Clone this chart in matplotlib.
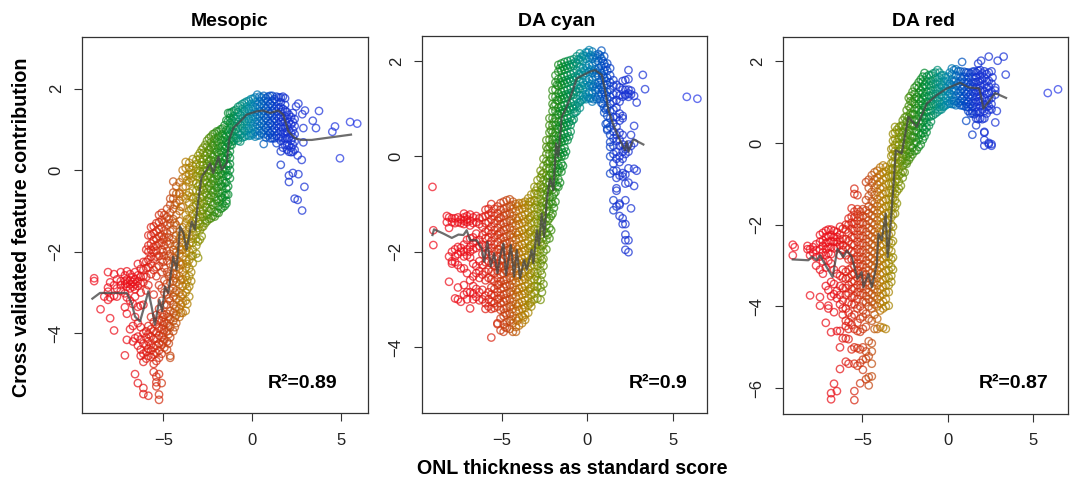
import matplotlib
matplotlib.use('Agg')
import matplotlib.pyplot as plt
from matplotlib.colors import LinearSegmentedColormap, Normalize

plt.rcParams['font.family'] = ['Liberation Sans', 'DejaVu Sans']

W, H = 1073, 479

# each column: one x value and the y values of the circles read at that x
meso_x = [-8.9,-8.54,-8.33,-8.12,-8.0,-7.78,-7.62,-7.4,-7.17,-7.06,-6.88,-6.72,-6.6,-6.44,-6.28,-6.13,-5.97,-5.85,-5.7,-5.55,-5.4,-5.25,-5.1,-4.95,-4.8,-4.62,-4.45,-4.28,-4.1,-3.92,-3.75,-3.55,-3.35]
meso_y = [
[-2.65,-2.72],[-3.41],[-3.1],[-2.5,-2.88,-3.18,-2.98],[-3.63,-2.75,-3.12],[-3.93,-2.55,-2.82,-3.08],[-2.68,-2.9,-3.1],[-2.5,-2.72,-2.82,-2.96],
[-4.54,-3.36,-2.58,-2.72,-2.8,-3.02],[-3.52,-4.16,-2.48,-2.68,-2.78,-2.86,-3.12],[-2.55,-2.7,-2.8,-2.9,-3.9,-3.2],[-2.62,-2.74,-2.86,-3.28,-3.82,-4.2],
[-2.5,-2.68,-2.8,-2.92,-3.1,-3.6,-4.12,-5.0],[-2.3,-2.58,-2.72,-2.84,-3.35,-3.75,-4.08,-4.3,-5.22],[-2.42,-2.62,-2.78,-3.0,-3.32,-3.85,-4.15,-4.4,-4.55],
[-2.25,-2.45,-2.6,-2.75,-3.3,-4.0,-4.25,-4.5,-4.7,-5.34,-5.49],[-1.95,-2.25,-2.4,-2.62,-2.95,-3.95,-4.1,-4.3,-4.45,-4.62],
[-1.6,-1.85,-2.0,-2.2,-2.38,-2.82,-3.82,-4.02,-4.2,-4.38,-4.55,-5.53],[-1.4,-1.6,-1.8,-1.95,-2.12,-2.3,-2.55,-3.6,-3.9,-4.08,-4.28,-4.42,-4.58],
[-1.38,-1.55,-1.72,-1.88,-2.02,-2.18,-2.45,-3.05,-3.72,-3.95,-4.15,-4.35,-4.52,-4.75,-4.95],
[-1.3,-1.5,-1.68,-1.85,-1.98,-2.12,-2.38,-2.6,-3.55,-3.78,-3.98,-4.12,-4.3,-4.48,-4.68,-5.06,-5.3,-5.2],
[-1.1,-1.28,-1.45,-1.62,-1.8,-2.1,-2.35,-2.82,-3.4,-3.68,-3.88,-4.05,-4.25,-4.42,-4.6,-5.0,-5.5,-5.63],
[-1.05,-1.22,-1.4,-1.6,-1.78,-1.95,-2.2,-2.5,-2.9,-3.2,-3.5,-3.7,-3.9,-4.1,-4.28,-4.5,-5.22],
[-1.1,-1.28,-1.48,-1.65,-1.85,-2.1,-2.4,-2.7,-3.0,-3.3,-3.55,-3.72,-3.92,-4.15,-4.35],
[-0.95,-1.15,-1.35,-1.55,-1.75,-1.98,-2.22,-2.5,-2.78,-3.05,-3.3,-3.52,-3.75,-3.95,-4.2,-4.4],
[-0.7,-0.85,-1.05,-1.3,-1.5,-1.8,-2.05,-2.3,-2.55,-2.75,-2.95,-3.2,-3.45,-3.65,-3.85,-4.1,-4.6,-4.55],
[-0.28,-0.55,-0.7,-0.95,-1.2,-1.45,-1.7,-1.95,-2.15,-2.35,-2.55,-2.72,-2.9,-3.1,-3.3,-3.5,-3.7,-3.95],
[-0.4,-0.58,-0.8,-1.1,-1.35,-1.6,-1.8,-2.0,-2.2,-2.38,-2.55,-2.75,-2.95,-3.15,-3.35,-3.55,-3.75],
[-0.3,-0.55,-0.58,-0.75,-1.0,-1.25,-1.5,-1.68,-1.88,-2.05,-2.25,-2.42,-2.6,-2.8,-3.0,-3.2,-3.4,-3.6],
[0.0,-0.2,-0.42,-0.65,-0.9,-1.4,-1.6,-1.78,-1.95,-2.12,-2.3,-2.5,-2.68,-2.85,-3.05,-3.25,-3.5],
[0.2,0.05,-0.15,-0.4,-0.7,-1.1,-1.3,-1.5,-1.68,-1.85,-2.02,-2.2,-2.4,-2.6,-2.8,-3.0,-3.2,-3.45],
[0.18,0.05,-0.1,-0.3,-0.55,-0.8,-1.0,-1.2,-1.4,-1.6,-1.8,-2.0,-2.2,-2.4,-2.6,-2.85,-3.1],
[0.27,0.1,-0.08,-0.28,-0.5,-0.7,-0.9,-1.08,-1.25,-1.42,-1.6,-1.78,-1.95,-2.1,-2.28]]
meso_band = [
(-5.02,[-3.6,-3.8,-4.0,-4.22,-2.25,-2.0,-1.7]),(-4.7,[-1.2,-1.65,-2.1,-2.6,-3.15,-3.6,-3.82,-4.02,-4.25]),(-4.36,[-0.85,-1.3,-1.85,-2.25,-2.65,-3.0,-3.4,-3.62,-3.85]),
(-4.02,[-0.9,-1.6,-1.95,-2.32,-2.7,-3.1,-3.3,-3.5]),(-3.66,[-0.25,-0.62,-1.2,-1.58,-1.9,-2.3,-2.7,-2.92,-3.28]),(-3.44,[0.0,-0.2,-0.65,-0.95,-1.3,-1.68,-2.1,-2.5,-2.72]),
(-3.15,[0.25,0.15,0.02,-0.15,-0.32,-0.5,-0.68,-0.85,-1.02,-1.18,-1.35,-1.5,-1.68,-1.85,-2.05]),(-3.05,[0.35,-0.08,-0.4,-0.76,-1.1,-1.42,-1.75,-2.15]),
(-2.95,[0.42,0.28,0.12,-0.02,-0.18,-0.35,-0.52,-0.68,-0.85,-1.0,-1.15,-1.32,-1.48,-1.7]),(-2.85,[0.5,0.2,-0.1,-0.43,-0.77,-1.08,-1.4,-1.62]),
(-2.76,[0.55,0.42,0.28,0.12,-0.02,-0.18,-0.32,-0.48,-0.65,-0.82,-0.98,-1.15,-1.38]),(-2.65,[0.62,0.35,0.05,-0.25,-0.56,-0.9,-1.22,-1.3]),
(-2.55,[0.72,0.58,0.42,0.28,0.15,0.0,-0.15,-0.3,-0.45,-0.6,-0.75,-0.92,-1.1,-1.25]),(-2.44,[0.78,0.5,0.22,-0.08,-0.38,-0.68,-1.0,-1.2]),
(-2.33,[0.82,0.68,0.55,0.4,0.25,0.12,-0.03,-0.18,-0.33,-0.48,-0.62,-0.78,-0.95,-1.18]),(-2.22,[0.88,0.6,0.32,0.05,-0.26,-0.55,-0.86,-1.12]),
(-2.12,[0.9,0.76,0.62,0.5,0.36,0.22,0.08,-0.08,-0.22,-0.36,-0.5,-0.66,-0.82,-1.02,-1.14]),(-2.0,[0.95,0.7,0.44,0.15,-0.15,-0.44,-0.75,-1.05]),
(-1.9,[0.95,0.82,0.68,0.55,0.42,0.28,0.14,0.0,-0.14,-0.28,-0.42,-0.56,-0.72,-0.88,-1.05]),(-1.78,[1.0,0.75,0.48,0.2,-0.07,-0.35,-0.65,-0.95]),
(-1.68,[1.02,0.88,0.74,0.6,0.46,0.32,0.18,0.04,-0.1,-0.25,-0.4,-0.55,-0.68,-0.82,-0.92]),(-1.56,[1.1,0.8,0.52,0.25,-0.03,-0.32,-0.62,-0.88]),
(-1.46,[1.22,0.98,0.84,0.7,0.56,0.42,0.28,0.14,0.0,-0.15,-0.3,-0.45,-0.6,-0.75,-0.82]),(-1.36,[1.4,1.2,0.92,0.65,0.38,0.1,-0.12,-0.4,-0.6]),
(-1.26,[1.4,1.28,1.15,1.02,0.88,0.74,0.6,0.46,0.3,0.15,0.0,-0.2]),(-1.16,[1.42,1.22,0.95,0.7,0.62]),
(-1.05,[1.45,1.32,1.2,1.08,0.95,0.82,0.72]),(-0.92,[1.48,1.25,1.0,0.78]),(-0.8,[1.55,1.42,1.3,1.18,1.05,0.92,0.78,0.72]),(-0.68,[1.58,1.35,1.12,0.86,0.7]),
(-0.56,[1.62,1.5,1.38,1.26,1.14,1.02,0.9,0.8]),(-0.44,[1.65,1.44,1.2,0.95,0.82]),(-0.32,[1.68,1.56,1.44,1.32,1.2,1.08,0.96,0.86]),(-0.2,[1.7,1.5,1.26,1.02,0.84]),
(-0.08,[1.74,1.62,1.5,1.38,1.26,1.14,1.02,0.9,0.85]),(0.04,[1.75,1.55,1.32,1.08,0.88]),(0.16,[1.78,1.66,1.54,1.42,1.3,1.18,1.06,0.94,0.82]),(0.28,[1.85,1.6,1.36,1.12,0.85]),
(0.4,[1.8,1.68,1.56,1.44,1.32,1.2,1.08,0.96,0.85]),(0.52,[1.78,1.62,1.38,1.14,0.9]),(0.64,[1.82,1.7,1.58,1.46,1.34,1.22,1.1,0.98,0.88,0.64]),(0.76,[1.76,1.52,1.28,1.04,0.8]),
(0.88,[1.8,1.68,1.56,1.44,1.32,1.2,1.08,0.96,0.85]),(1.0,[1.82,1.62,1.38,1.14,0.9,0.78]),(1.12,[1.82,1.7,1.58,1.46,1.34,1.22,1.1,0.98,0.86,0.78]),(1.24,[1.74,1.5,1.26,1.02,0.78]),
(1.36,[1.8,1.68,1.56,1.44,1.32,1.2,1.08,0.96,0.84,0.66]),(1.48,[1.78,1.52,1.28,1.04,0.78]),(1.6,[1.78,1.66,1.54,1.42,1.3,1.18,1.06,0.94,0.82,0.72,0.46,0.13]),(1.72,[1.8,1.5,1.26,1.02,0.8,0.55]),
(1.84,[1.76,1.6,1.46,1.32,1.18,1.04,0.9,0.76,0.62]),(1.95,[1.42,1.26,1.1,0.94,0.78,0.62,0.5]),(2.06,[1.36,1.18,0.98,0.8,0.6,0.45,-0.13,-0.29]),(2.18,[1.3,1.12,0.9,0.72,0.55,0.44]),
(2.28,[1.4,1.18,0.98,0.8,0.62,0.45,-0.07]),(2.38,[1.25,1.08,0.88,0.7,0.5,-0.7])]
meso_out_x = [2.46,2.59,2.55,2.55,2.59,2.81,2.87,2.87,2.78,2.8,2.96,2.93,3.4,3.58,3.75,4.5,4.65,4.93,5.5,5.9]
meso_out_y = [1.56,1.63,0.36,-0.73,-0.1,1.37,1.03,0.68,0.25,-0.99,1.46,-0.41,1.21,1.03,1.45,0.94,1.07,0.29,1.18,1.14]
meso_trend_x = [-9.0,-8.57,-7.07,-6.79,-6.6,-6.32,-6.13,-5.85,-5.67,-5.48,-5.23,-5.07,-4.92,-4.73,-4.45,-4.26,-4.07,-3.88,-3.7,-3.41,-3.23,-3.04,-2.85,-2.57,-2.38,-2.2,-1.91,-1.73,-1.44,-1.31,-1.07,-0.69,-0.32,0.24,0.62,0.99,1.46,1.74,2.03,2.4,2.78,3.34,5.55]
meso_trend_y = [-3.15,-3.01,-3.01,-3.26,-3.59,-3.71,-3.42,-2.97,-3.34,-3.79,-3.18,-3.46,-2.85,-3.01,-2.12,-2.44,-1.38,-1.54,-1.95,-1.26,-1.46,-0.73,-0.16,0.01,0.17,-0.07,0.33,0.01,0.17,0.74,1.03,1.19,1.36,1.44,1.46,1.4,1.46,1.36,0.95,0.78,0.74,0.74,0.87]

cyan_x = [-9.04,-8.99,-8.2,-8.07,-7.9,-7.72,-7.55,-7.38,-7.2,-7.02,-6.84,-6.66,-6.48,-6.3,-6.12,-5.94,-5.76,-5.6,-5.42,-5.24,-5.06,-4.88,-4.7,-4.52,-4.34,-4.16,-3.98,-3.8,-3.62,-3.44,-3.26,-3.08,-2.9,-2.72,-2.55,-2.38,-2.2,-2.02,-1.85,-1.68,-1.5,-1.32,-1.14,-0.96,-0.78,-0.6,-0.42,-0.24,-0.06,0.12,0.3,0.48,0.66,0.84,1.0,1.18,1.35,1.54,1.72,1.9,2.08,2.24,2.42,2.57,2.75,2.9,3.26,3.39,5.83,6.45]
cyan_y = [
[-0.64],[-1.55,-1.86],[-1.25,-1.38],[-1.5,-2.63,-2.1,-1.28],[-1.3,-1.38,-2.0,-2.25,-2.2],[-1.3,-1.4,-1.95,-2.1,-2.22,-2.98],[-1.28,-1.38,-1.9,-2.05,-2.28,-2.75,-3.0],[-1.32,-1.4,-1.92,-2.0,-2.35,-3.05],
[-1.2,-1.28,-1.35,-1.42,-1.85,-2.0,-2.1,-2.35,-2.7,-2.9],[-1.25,-1.32,-1.38,-1.75,-1.95,-2.08,-2.45,-2.85,-3.0],[-1.22,-1.35,-1.45,-1.72,-1.9,-2.0,-2.12,-2.6,-3.19,-2.85],[-1.28,-1.4,-1.7,-1.82,-1.95,-2.25,-2.52,-2.72,-2.88,-3.0],
[-1.25,-1.38,-1.62,-1.78,-1.92,-2.3,-2.45,-2.78,-2.95],[-1.3,-1.42,-1.75,-1.88,-2.2,-2.4,-2.55,-2.85,-3.02],[-1.28,-1.48,-1.65,-1.85,-2.05,-2.28,-2.48,-2.8,-3.0],[-1.12,-1.25,-1.4,-1.58,-1.72,-1.88,-2.05,-2.22,-2.42,-2.6,-2.92,-3.08,-3.2],
[-1.1,-1.22,-1.38,-1.55,-1.7,-1.85,-2.0,-2.2,-2.38,-2.55,-2.85,-3.0,-3.15],[-1.0,-1.18,-1.32,-1.48,-1.62,-1.78,-1.92,-2.08,-2.25,-2.42,-2.58,-2.75,-2.9,-3.05,-3.2,-3.8],[-1.1,-1.25,-1.4,-1.55,-1.7,-1.85,-2.0,-2.15,-2.3,-2.45,-2.62,-2.78,-2.92,-3.08,-3.18],
[-1.05,-1.2,-1.35,-1.5,-1.65,-1.8,-1.95,-2.1,-2.25,-2.4,-2.55,-2.7,-2.85,-3.0,-3.15,-3.5,-3.52],[-0.98,-1.12,-1.28,-1.42,-1.58,-1.72,-1.88,-2.02,-2.18,-2.32,-2.48,-2.62,-2.78,-2.92,-3.08,-3.22,-3.4,-3.65],
[-0.95,-1.1,-1.25,-1.4,-1.55,-1.7,-1.85,-2.0,-2.15,-2.3,-2.45,-2.6,-2.75,-2.9,-3.05,-3.2,-3.35,-3.52,-3.68],[-0.92,-1.08,-1.22,-1.38,-1.52,-1.68,-1.82,-1.98,-2.12,-2.28,-2.42,-2.58,-2.72,-2.88,-3.02,-3.18,-3.32,-3.48,-3.6],
[-0.9,-1.05,-1.2,-1.35,-1.5,-1.65,-1.8,-1.95,-2.1,-2.25,-2.4,-2.55,-2.7,-2.85,-3.0,-3.15,-3.3,-3.45,-3.62],[-0.95,-1.1,-1.25,-1.4,-1.55,-1.7,-1.85,-2.0,-2.15,-2.3,-2.45,-2.6,-2.75,-2.9,-3.05,-3.2,-3.35,-3.5,-3.68],
[-1.0,-1.15,-1.3,-1.45,-1.6,-1.75,-1.9,-2.05,-2.2,-2.35,-2.5,-2.65,-2.8,-2.95,-3.1,-3.25,-3.4,-3.58,-3.68],[-0.98,-1.12,-1.28,-1.42,-1.58,-1.72,-1.88,-2.02,-2.18,-2.32,-2.48,-2.62,-2.78,-2.92,-3.08,-3.22,-3.38,-3.55],
[-0.98,-1.1,-1.25,-1.4,-1.55,-1.7,-1.85,-2.0,-2.15,-2.3,-2.45,-2.6,-2.75,-2.9,-3.05,-3.2,-3.35,-3.5],[-0.95,-1.08,-1.22,-1.38,-1.52,-1.68,-1.82,-1.98,-2.12,-2.28,-2.42,-2.58,-2.72,-2.88,-3.02,-3.18,-3.32,-3.43],
[-0.88,-1.02,-1.18,-1.32,-1.48,-1.62,-1.78,-1.92,-2.08,-2.22,-2.38,-2.52,-2.68,-2.82,-2.98,-3.12,-3.28],[-0.8,-0.95,-1.1,-1.25,-1.4,-1.55,-1.7,-1.85,-2.0,-2.15,-2.3,-2.45,-2.6,-2.75,-2.9,-3.05,-3.15],
[-0.64,-0.78,-0.92,-1.08,-1.22,-1.38,-1.52,-1.68,-1.82,-1.98,-2.12,-2.28,-2.42,-2.58,-2.72,-2.88,-3.0],[-0.5,-0.65,-0.8,-0.95,-1.1,-1.25,-1.4,-1.55,-1.7,-1.85,-2.0,-2.15,-2.3,-2.45,-2.6,-2.73,-2.98],
[-0.3,-0.45,-0.6,-0.75,-0.9,-1.05,-1.2,-1.35,-1.5,-1.65,-1.8,-1.95,-2.1,-2.25,-2.4,-2.6,-2.75,-3.01],[-0.05,-0.2,-0.35,-0.5,-0.65,-0.8,-0.95,-1.1,-1.25,-1.4,-1.55,-1.7,-1.85,-2.0,-2.15,-2.3,-2.68],
[0.34,0.2,0.05,-0.1,-0.25,-0.4,-0.55,-0.7,-0.85,-1.0,-1.15,-1.3,-1.45,-1.6,-1.75,-1.95],[0.8,0.65,0.5,0.35,0.2,0.05,-0.1,-0.25,-0.4,-0.55,-0.7,-0.85,-1.0,-1.15,-1.3,-1.5,-1.72],
[1.39,1.25,1.1,0.95,0.8,0.65,0.5,0.35,0.2,0.05,-0.1,-0.25,-0.4,-0.55,-0.7,-0.85,-1.0,-1.2],[1.7,1.55,1.4,1.25,1.1,0.95,0.8,0.65,0.5,0.35,0.2,0.05,-0.1,-0.25,-0.4,-0.55,-0.75,-0.95],
[1.92,1.78,1.62,1.48,1.32,1.18,1.02,0.88,0.72,0.58,0.42,0.28,0.12,-0.02,-0.18,-0.32,-0.48,-0.64],[1.95,1.8,1.65,1.5,1.35,1.2,1.05,0.9,0.75,0.6,0.45,0.3,0.15,0.0,-0.15,-0.32],
[1.98,1.82,1.68,1.52,1.38,1.22,1.08,0.92,0.78,0.62,0.48,0.32,0.18,0.02],[2.0,1.85,1.7,1.55,1.4,1.25,1.1,0.95,0.8,0.65,0.5,0.34],[2.02,1.88,1.72,1.58,1.42,1.28,1.12,0.98,0.82,0.66,0.52],
[2.04,1.9,1.75,1.6,1.45,1.3,1.15,1.0,0.9,0.78],[2.1,1.95,1.8,1.65,1.5,1.35,1.2,1.05,0.95],[2.16,2.02,1.88,1.72,1.58,1.42,1.28,1.14,1.02],[2.12,2.0,1.85,1.7,1.55,1.4,1.28,1.2],[2.18,2.05,1.9,1.75,1.6,1.45,1.3,1.2],
[2.23,2.08,1.92,1.78,1.62,1.48,1.35,1.22],[2.2,2.05,1.9,1.75,1.6,1.45,1.32,1.15],[2.12,1.98,1.82,1.68,1.52,1.38,1.25],[2.15,2.0,1.85,1.7,1.55,1.4,1.28],[2.22,2.05,1.9,1.75,1.6,1.45,1.3,1.12],
[2.1,1.95,1.8,1.65,1.5,1.35,1.2,1.02,0.92],[1.95,1.8,1.65,1.5,1.35,1.2,1.02,0.85,0.7,0.55,0.58],[1.85,1.7,1.55,1.4,1.25,1.1,0.95,0.8,0.62,0.45,0.3,0.2,0.0,-0.36],
[1.6,1.48,1.3,1.15,0.98,0.82,0.7,0.52,0.38,0.22,0.05,-0.15,-0.3,-0.92,-1.13],[1.5,1.32,1.18,1.02,0.82,0.62,0.45,0.32,0.1,-0.05,-0.3,-0.45,-0.67,-0.72,-1.05],
[1.45,1.28,1.15,0.9,0.75,0.5,0.35,0.22,0.0,-0.12,-0.4,-0.99,-1.25,-1.02],[1.58,1.4,1.25,0.85,0.8,0.45,0.25,0.1,-0.05,-0.35,-0.42,-1.3,-1.42],
[1.6,1.4,1.28,1.3,0.2,0.15,0.05,-0.38,-0.57,-0.92,-1.42,-1.64,-1.76,-1.96],[1.81,1.62,1.4,1.32,1.25,0.25,0.1,-0.25,-0.55,-1.76,-2.01],[1.38,1.3,0.45,-1.09,0.22],[1.27,0.64,0.28,-0.26,-0.62],[1.13,-0.3],[1.71],[1.41],[1.25],[1.21]]
cyan_band = [
(-5.15,[-1.3,-1.62,-1.95,-2.3,-2.68,-2.98]),(-4.8,[-1.18,-1.48,-1.78,-2.08,-2.38,-2.68,-2.98,-3.28,-3.58]),(-4.44,[-1.02,-1.32,-1.62,-1.92,-2.22,-2.52,-2.82,-3.12,-3.42]),
(-4.08,[-1.05,-1.35,-1.65,-1.95,-2.25,-2.55,-2.85,-3.15,-3.45]),(-3.72,[-1.02,-1.32,-1.62,-1.92,-2.22,-2.52,-2.82,-3.12,-3.38]),(-3.35,[-0.95,-1.28,-1.58,-1.88,-2.18,-2.48,-2.78,-3.08]),
(-3.0,[-0.72,-1.02,-1.32,-1.62,-1.92,-2.22,-2.52,-2.82]),(-2.64,[-0.38,-0.68,-0.98,-1.28,-1.58,-1.88,-2.18,-2.48,-2.85]),(-2.3,[0.15,-0.15,-0.45,-0.75,-1.05,-1.35,-1.65]),
(-2.1,[0.55,0.25,-0.05,-0.35,-0.65,-0.95,-1.25,-1.55]),(-1.94,[1.05,0.72,0.42,0.12,-0.18,-0.48,-0.78,-1.08]),(-1.76,[1.5,1.18,0.88,0.58,0.28,-0.02,-0.32,-0.62]),
(-1.58,[1.85,1.55,1.25,0.95,0.65,0.35,0.05,-0.25,-0.55]),(-1.41,[1.88,1.58,1.28,0.98,0.68,0.38,0.08,-0.2]),(-1.23,[1.9,1.6,1.3,1.0,0.7,0.4,0.1]),(-1.05,[1.92,1.62,1.32,1.02,0.72,0.42]),
(-0.87,[1.94,1.65,1.35,1.05,0.75]),(-0.69,[1.98,1.68,1.38,1.08,0.92]),(-0.51,[2.04,1.72,1.42,1.12]),(-0.33,[2.08,1.78,1.48,1.18]),(-0.15,[2.1,1.8,1.5,1.24]),(0.03,[2.18,1.85,1.55,1.25]),
(0.21,[2.12,1.82,1.52,1.22]),(0.39,[2.08,1.78,1.48,1.2]),(0.57,[2.06,1.75,1.45,1.2]),(0.75,[2.12,1.8,1.5,1.2]),(0.92,[2.0,1.7,1.4,1.1]),(1.09,[1.88,1.58,1.28,0.98,0.68])]
cyan_trend_x = [-9.04,-8.95,-8.4,-7.91,-7.52,-7.23,-7.04,-6.84,-6.45,-6.16,-6.02,-5.83,-5.63,-5.44,-5.24,-5.09,-4.89,-4.74,-4.46,-4.27,-4.11,-3.92,-3.68,-3.53,-3.24,-3.14,-2.94,-2.81,-2.65,-2.51,-2.36,-2.16,-1.97,-1.81,-1.68,-1.48,-1.19,-0.9,-0.6,-0.21,0.18,0.47,0.86,1.05,1.25,1.54,1.83,2.22,2.32,2.42,2.71,3.29]
cyan_trend_y = [-1.65,-1.53,-1.62,-1.71,-1.64,-1.65,-1.55,-1.76,-1.76,-1.93,-2.21,-1.79,-2.31,-2.03,-2.45,-2.1,-1.83,-2.49,-1.86,-2.52,-1.96,-2.56,-2.17,-2.38,-1.96,-2.24,-1.55,-1.86,-1.2,-1.69,-0.92,-0.46,-0.71,0.27,0.0,0.83,1.04,1.32,1.64,1.71,1.78,1.81,1.71,1.39,0.97,0.66,0.41,0.13,0.31,0.1,0.36,0.25]

red_x = [-9.06,-8.95,-8.2,-8.05,-7.88,-7.7,-7.47,-7.3,-7.13,-6.98,-6.82,-6.65,-6.48,-6.3,-6.14,-5.96,-5.8,-5.62,-5.46,-5.28,-5.12,-4.96,-4.78,-4.62,-4.44,-4.28,-4.12,-3.95,-3.78,-3.62,-3.45,-3.3]
red_y = [
[-2.49,-2.75],[-2.55],[-2.52,-2.6],[-3.73,-2.6,-2.75],[-2.55,-2.68],[-2.48,-2.62,-2.8,-3.0],[-2.25,-2.42,-2.6,-2.78,-3.1,-3.77,-3.98],[-2.2,-2.38,-2.52,-2.68,-2.9,-3.2],[-2.15,-2.3,-2.45,-2.6,-2.75,-3.05,-3.5,-4.4],
[-2.12,-2.28,-2.42,-2.55,-2.7,-2.88,-3.6,-3.98,-4.05],[-2.12,-2.25,-2.4,-2.55,-2.72,-2.95,-3.4,-3.75,-4.63,-6.12,-6.27],[-2.15,-2.3,-2.42,-2.58,-3.1,-3.45,-3.7,-4.14,-5.89],[-2.18,-2.3,-2.42,-2.55,-3.2,-3.62,-3.8,-4.6,-6.07],
[-2.05,-2.25,-2.38,-2.5,-2.75,-3.25,-3.5,-3.72,-3.95,-4.6,-5.0,-5.53],[-2.1,-2.35,-2.5,-2.62,-3.1,-3.3,-3.55,-3.85,-4.05,-4.2,-4.78],[-2.0,-2.12,-2.35,-2.55,-2.75,-3.15,-3.32,-3.55,-3.72,-4.05,-4.35,-4.48,-4.78,-5.35],
[-1.85,-2.0,-2.2,-2.4,-2.6,-2.85,-3.1,-3.3,-3.48,-3.68,-3.9,-4.15,-4.38,-4.55,-4.8,-5.4],[-1.6,-1.8,-1.95,-2.1,-2.3,-2.48,-2.65,-2.85,-3.05,-3.22,-3.4,-3.58,-3.78,-3.95,-4.25,-4.45,-5.05],
[-1.12,-1.25,-1.68,-1.82,-1.98,-2.15,-2.32,-2.5,-2.68,-2.85,-3.02,-3.2,-3.38,-3.55,-3.75,-3.95,-4.2,-4.55,-5.0,-5.4,-6.07,-6.29],[-1.28,-1.62,-1.75,-1.9,-2.08,-2.25,-2.42,-2.6,-2.78,-2.95,-3.12,-3.3,-3.48,-3.65,-3.82,-4.05,-4.4,-4.6,-5.02,-5.45],
[-1.68,-1.82,-1.98,-2.15,-2.32,-2.5,-2.68,-2.85,-3.02,-3.2,-3.38,-3.55,-3.72,-4.0,-4.3,-4.62,-5.05,-5.38,-5.88],[-1.62,-1.78,-1.95,-2.1,-2.28,-2.45,-2.62,-2.8,-2.98,-3.15,-3.32,-3.5,-3.68,-3.88,-4.1,-4.25,-4.55,-5.0,-5.3,-5.55],
[-0.96,-1.4,-1.65,-1.82,-2.0,-2.18,-2.35,-2.52,-2.7,-2.88,-3.05,-3.22,-3.4,-3.58,-3.75,-3.9,-4.18,-4.5,-5.1,-5.28,-5.78],[-0.9,-1.1,-1.3,-1.55,-1.72,-1.9,-2.08,-2.25,-2.42,-2.6,-2.78,-2.95,-3.12,-3.3,-3.48,-3.65,-3.82,-4.0,-4.3,-4.85,-5.22,-5.73,-5.93],
[-0.79,-0.98,-1.2,-1.42,-1.6,-1.78,-1.95,-2.12,-2.3,-2.48,-2.65,-2.82,-3.0,-3.18,-3.35,-3.52,-3.7,-3.88,-4.05,-4.35,-4.9,-5.1,-5.4,-5.71],[-0.72,-0.9,-1.1,-1.28,-1.48,-1.65,-1.82,-2.0,-2.18,-2.35,-2.52,-2.7,-2.88,-3.05,-3.22,-3.4,-3.58,-3.75,-3.95,-4.2,-4.55],
[-0.68,-0.85,-1.02,-1.2,-1.38,-1.55,-1.72,-1.9,-2.08,-2.25,-2.42,-2.6,-2.78,-2.95,-3.12,-3.3,-3.48,-3.65,-3.82,-4.0,-4.3,-4.55],[-0.6,-0.78,-0.95,-1.12,-1.3,-1.48,-1.65,-1.82,-2.0,-2.18,-2.35,-2.52,-2.7,-2.88,-3.05,-3.22,-3.4,-3.58,-3.75,-3.92,-4.1,-4.5],
[-0.55,-0.72,-0.9,-1.08,-1.25,-1.42,-1.6,-1.78,-1.95,-2.12,-2.3,-2.48,-2.65,-2.82,-3.0,-3.18,-3.35,-3.52,-3.7,-3.88,-4.05,-4.52],[-0.59,-0.7,-0.85,-1.0,-1.2,-1.38,-1.55,-1.72,-1.9,-2.08,-2.25,-2.42,-2.6,-2.78,-2.95,-3.12,-3.3,-3.48,-3.65,-3.82,-4.0,-4.55],
[-0.65,-0.8,-1.0,-1.22,-1.38,-1.55,-1.72,-1.9,-2.08,-2.25,-2.42,-2.6,-2.78,-2.95,-3.12,-3.3,-3.48,-3.65,-3.98],[-0.15,-0.32,-0.5,-0.65,-0.82,-0.98,-1.15,-1.32,-1.5,-1.65,-1.82,-2.0,-2.2,-2.45,-2.65,-2.85,-3.04,-3.25,-3.4]]
red_band = [
(-3.2,[0.22,0.05,-0.12,-0.28,-0.46,-0.62,-0.8,-1.0,-1.18,-1.36,-1.55,-1.75,-2.05,-2.4,-2.8,-3.1]),(-3.08,[0.39,0.25,0.1,-0.05,-0.2,-0.35,-0.5,-0.65,-0.8,-0.95,-1.1,-1.25,-1.4,-1.58,-1.73]),
(-2.97,[0.32,0.02,-0.28,-0.58,-0.88,-1.18,-1.48]),(-2.86,[0.38,0.25,0.1,-0.05,-0.2,-0.35,-0.5,-0.65,-0.8,-0.95,-1.12]),(-2.74,[0.42,0.15,-0.15,-0.45,-0.75,-1.05]),
(-2.63,[0.55,0.42,0.28,0.14,0.0,-0.14,-0.28,-0.42,-0.56,-0.7,-0.85]),(-2.52,[0.62,0.35,0.08,-0.22,-0.5,-0.72]),(-2.4,[0.8,0.65,0.52,0.38,0.24,0.1,-0.04,-0.18,-0.32,-0.45,-0.51]),
(-2.28,[1.1,0.9,0.62,0.3,0.02,-0.26,-0.42]),(-2.18,[1.15,1.02,0.85,0.72,0.58,0.45,0.32,0.18,0.05,-0.08,-0.22,-0.35]),(-2.06,[1.25,1.0,0.7,0.42,0.12,-0.12,-0.28]),
(-1.94,[1.35,1.2,1.08,0.95,0.82,0.7,0.56,0.42,0.28,0.14,0.0,-0.2]),(-1.82,[1.4,1.12,0.85,0.58,0.3,0.02,-0.18]),(-1.7,[1.48,1.35,1.22,1.08,0.94,0.8,0.66,0.52,0.38,0.24,0.1,-0.1]),
(-1.58,[1.55,1.28,1.02,0.75,0.48,0.2,-0.04]),(-1.46,[1.62,1.5,1.36,1.22,1.08,0.94,0.8,0.66,0.52,0.38,0.24,0.08]),(-1.36,[1.71,1.42,1.15,0.88,0.6,0.32,0.16]),
(-1.24,[1.62,1.5,1.38,1.25,1.12,1.0,0.88,0.75,0.62,0.5,0.38,0.26]),(-1.1,[1.66,1.42,1.16,0.9,0.64,0.42]),(-0.98,[1.65,1.52,1.4,1.28,1.15,1.02,0.9,0.78,0.65,0.52]),(-0.85,[1.7,1.45,1.2,0.95,0.68]),
(-0.72,[1.72,1.58,1.45,1.32,1.2,1.08,0.95,0.82,0.72]),(-0.6,[1.78,1.5,1.26,1.02,0.76]),(-0.48,[1.72,1.6,1.48,1.36,1.24,1.12,1.0,0.88,0.8]),(-0.36,[1.65,1.42,1.18,0.94,0.82]),
(-0.24,[1.65,1.52,1.4,1.28,1.15,1.02,0.9,0.88]),(-0.12,[1.6,1.34,1.1,0.92]),(0.0,[1.62,1.5,1.38,1.26,1.14,1.02,0.95]),(0.12,[1.72,1.44,1.2,0.96]),(0.24,[1.82,1.68,1.55,1.42,1.3,1.18,1.05,0.95]),
(0.36,[1.78,1.5,1.26,1.02,0.95]),(0.48,[1.8,1.65,1.52,1.4,1.28,1.15,1.02,0.92]),(0.62,[1.75,1.46,1.22,0.98]),(0.74,[1.75,1.62,1.5,1.38,1.26,1.14,1.02,0.92]),(0.84,[1.98,1.55,1.32,1.08,0.92]),
(0.96,[1.74,1.62,1.5,1.38,1.26,1.14,1.02,0.9]),(1.08,[1.72,1.46,1.2,0.96,0.88,0.54]),(1.2,[1.72,1.6,1.48,1.36,1.24,1.12,1.0,0.88,0.78]),(1.32,[1.7,1.42,1.18,0.94,0.72]),
(1.44,[1.74,1.62,1.5,1.38,1.26,1.14,1.02,0.9,0.78,0.72,0.2]),(1.56,[1.75,1.48,1.22,0.98,0.7]),(1.66,[1.72,1.6,1.48,1.36,1.24,1.12,1.0,0.88,0.75,0.6,0.43]),(1.78,[1.94,1.76,1.5,1.26,1.02,0.78,0.58]),
(1.9,[1.78,1.65,1.52,1.4,1.28,1.15,1.02,0.9,0.75,0.6]),(2.02,[1.7,1.55,1.3,1.06,0.82,0.58]),(2.14,[1.75,1.6,1.42,1.26,1.1,0.94,0.78,0.6,0.27,0.25,0.07,-0.07]),(2.28,[1.68,1.5,1.35,1.2,1.02,0.88,0.72]),
(2.4,[2.11,1.72,1.52,1.38,1.22,1.05,0.9,0.8,0.0,-0.03]),(2.56,[1.75,1.45,1.25,1.1,0.95,0.82,-0.03,-0.07])]
red_out_x = [1.95,2.62,2.78,2.78,2.78,2.78,2.87,2.92,3.27,3.39,5.85,6.45]
red_out_y = [2.01,1.6,1.35,1.28,1.18,0.5,0.78,2.01,2.11,1.67,1.22,1.31]
red_trend_x = [-9.06,-8.15,-7.95,-7.66,-7.47,-7.08,-6.73,-6.45,-6.1,-5.9,-5.61,-5.28,-5.03,-4.93,-4.64,-4.44,-4.15,-4.05,-3.86,-3.63,-3.51,-3.37,-3.18,-3.04,-2.69,-2.3,-1.81,-1.23,-0.64,-0.06,0.72,1.21,1.85,2.09,2.77,3.41]
red_trend_y = [-2.85,-2.87,-2.78,-2.87,-2.75,-3.04,-3.28,-2.59,-2.79,-2.63,-2.79,-3.32,-3.16,-3.53,-3.2,-3.53,-2.96,-2.22,-2.38,-1.73,-2.79,-2.14,-1.08,-0.18,-0.26,0.64,0.39,0.96,1.17,1.33,1.47,1.36,1.33,0.84,1.22,1.1]

titles = ['Mesopic', 'DA cyan', 'DA red']
r2_labels = ['R\u00b2=0.89', 'R\u00b2=0.9', 'R\u00b2=0.87']
y_ticks = [[-4, -2, 0, 2], [-4, -2, 0, 2], [-6, -4, -2, 0, 2]]
x_ticks = [-5, 0, 5]

# colour runs with x, red on the left and blue on the right
ramp_x = [-9, -6.5, -5.5, -4.5, -3.8, -3.0, -2.2, -1.4, -0.6, 0, 0.5, 1.1, 1.8, 6.5]
ramp_colors = ['#f01020', '#e81018', '#d8240f', '#c24a10', '#b87a00', '#8c9000', '#3f8c0c',
               '#008a28', '#008f78', '#0088a8', '#0068b8', '#0045c4', '#1430d0', '#2a3ae8']
norm = Normalize(-9, 6.5)
ramp = LinearSegmentedColormap.from_list('ramp', [(float(norm(a)), c) for a, c in zip(ramp_x, ramp_colors)])

# left, right, top, bottom of each box in pixels
boxes = [(81.7, 367.7, 36.7, 413.3), (421.7, 707.3, 36.3, 413.3), (782.7, 1068.3, 37, 414)]
xlims = [(-9.6, 6.49), (-9.67, 7.03), (-9.65, 7.05)]
ylims = [(-5.96, 3.27), (-5.39, 2.52), (-6.63, 2.59)]
columns = [(meso_x, meso_y), (cyan_x, cyan_y), (red_x, red_y)]
bands = [meso_band, cyan_band, red_band]
outliers = [(meso_out_x, meso_out_y), ([], []), (red_out_x, red_out_y)]
trends = [(meso_trend_x, meso_trend_y), (cyan_trend_x, cyan_trend_y), (red_trend_x, red_trend_y)]
title_px = [230, 556.7, 924]
r2_px = [(302.5, 384), (658, 384), (1014, 384)]

fig = plt.figure(figsize=(W / 100, H / 100), dpi=100)

for i in range(3):
    l, r, t, b = boxes[i]
    ax = fig.add_axes([l / W, 1 - b / H, (r - l) / W, (b - t) / H])
    xs = list(outliers[i][0])
    ys = list(outliers[i][1])
    for x0, col in list(zip(*columns[i])) + bands[i]:
        for y0 in col:
            xs.append(x0)
            ys.append(y0)
    ax.scatter(xs, ys, s=28, facecolors='none', edgecolors=ramp(norm(xs)), linewidths=1.0, alpha=0.72)
    ax.plot(trends[i][0], trends[i][1], color='#484848', lw=1.6, alpha=0.8)
    ax.set_xlim(xlims[i])
    ax.set_ylim(ylims[i])
    ax.set_xticks(x_ticks)
    ax.set_yticks(y_ticks[i])
    ax.set_xticklabels(['\u2212' + str(-v) if v < 0 else str(v) for v in x_ticks])
    ax.set_yticklabels(['\u2212' + str(-v) if v < 0 else str(v) for v in y_ticks[i]], rotation=90, va='center')
    ax.tick_params(axis='x', length=6, width=0.8, color='#333333', labelsize=12, pad=8, labelcolor='#222222')
    ax.tick_params(axis='y', length=6, width=0.8, color='#333333', labelsize=12, pad=7, labelcolor='#222222')
    for s in ax.spines.values():
        s.set_linewidth(0.9)
        s.set_color('#333333')
    fig.text(title_px[i] / W, 1 - 21 / H, titles[i], ha='center', va='center', fontsize=14, fontweight='bold')
    fig.text(r2_px[i][0] / W, 1 - r2_px[i][1] / H, r2_labels[i], ha='center', va='center', fontsize=14, fontweight='bold')

fig.text(21.7 / W, 1 - 227 / H, 'Cross validated feature contribution', rotation=90, ha='center', va='center', fontsize=14.2, fontweight='bold')
fig.text(572 / W, 1 - 468 / H, 'ONL thickness as standard score', ha='center', va='center', fontsize=14.1, fontweight='bold')

fig.savefig('out.png', dpi=100)
